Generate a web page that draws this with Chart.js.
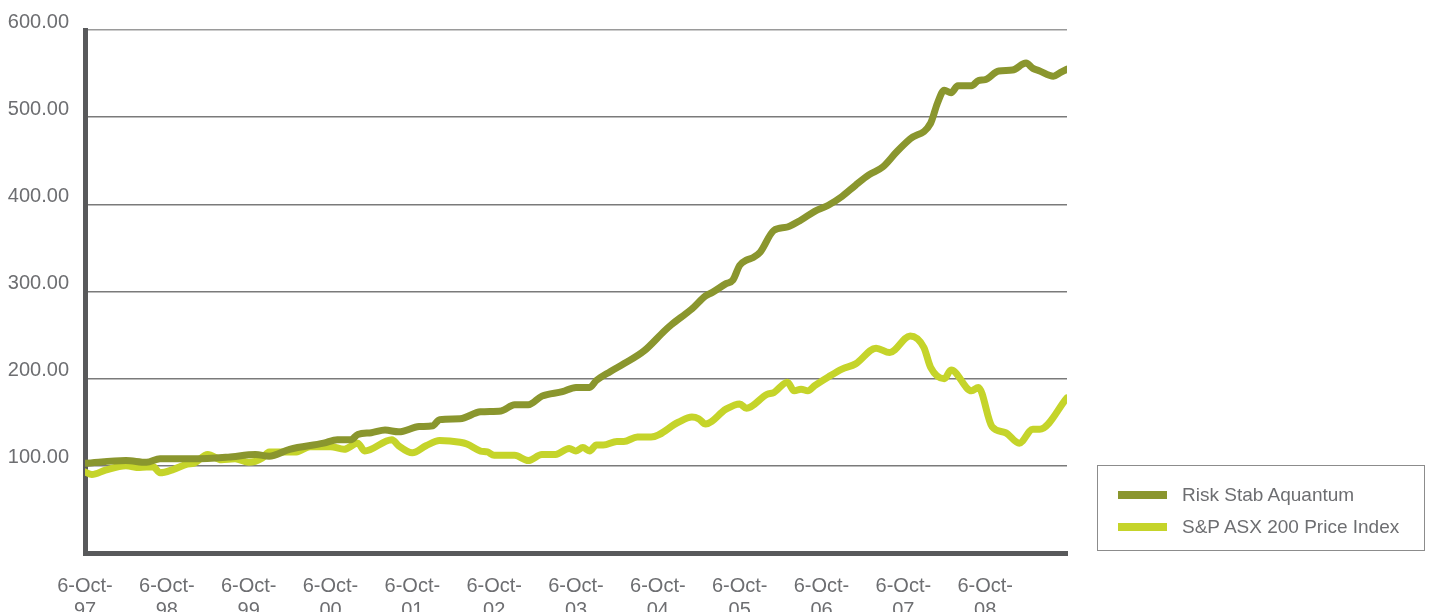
<!DOCTYPE html>
<html>
<head>
<meta charset="utf-8">
<script src="https://cdn.jsdelivr.net/npm/chart.js@4.4.0/dist/chart.umd.min.js"></script>
<style>
  html, body { margin: 0; padding: 0; background: #fff; }
  #wrap { position: relative; width: 1432px; height: 612px; overflow: hidden; }
  #legend {
    position: absolute; left: 1097px; top: 465px; width: 328px; height: 86px;
    border: 1px solid #8c8c8c; box-sizing: border-box;
    font-family: "Liberation Sans", Arial, sans-serif; font-size: 19px; color: #6d6e71;
  }
  .item { position: absolute; left: 20px; height: 24px; display: flex; align-items: center; }
  .swatch { width: 49px; height: 8px; margin-right: 15px; }
</style>
</head>
<body>
<div id="wrap">
  <canvas id="chart" width="1432" height="612"></canvas>
  <div id="legend"></div>
</div>
<script>
// x positions are months since 6-Oct-97
const yearLabels = ['97', '98', '99', '00', '01', '02', '03', '04', '05', '06', '07', '08'];

const riskMonths = [0, 6, 9, 11, 16, 21, 25, 27, 30, 35, 37, 39, 40, 42, 44, 46, 49, 51, 52, 55,
  58, 61, 63, 65, 67, 70, 72, 74, 75, 77, 79, 82, 85, 86, 88, 89, 91, 92, 94, 95,
  96, 97, 98, 99, 101, 103, 105, 107, 109, 111, 113, 115, 117, 119, 121, 124, 125, 126, 127, 128,
  130, 131, 132, 134, 136, 138, 139, 140, 142, 143, 144];
const riskValues = [103, 106, 104, 108, 108, 110, 113, 111, 119, 126, 130, 130, 136, 138, 141, 139, 145, 146, 153, 154,
  162, 163, 170, 170, 180, 185, 190, 190, 198, 208, 217, 232, 255, 262, 274, 280, 295, 299, 309, 313,
  330, 336, 339, 345, 370, 374, 382, 392, 399, 409, 422, 434, 443, 460, 475, 493, 516, 531, 528, 536,
  536, 542, 543, 553, 554, 562, 556, 553, 547, 551, 555];

const asxMonths = [0, 1, 3, 6, 8, 10, 11, 13, 15, 16, 18, 20, 22, 24, 26, 27, 31, 33, 36, 38,
  40, 41, 45, 46, 48, 50, 52, 55, 56, 58, 59, 60, 63, 65, 67, 69, 71, 72, 73, 74,
  75, 76, 78, 79, 81, 83, 87, 89, 90, 91, 94, 96, 97, 100, 101, 103, 104, 105, 106, 107,
  109, 111, 113, 116, 118, 121, 123, 124, 126, 127, 130, 131, 133, 135, 137, 139, 140, 144];
const asxValues = [93, 90, 95, 100, 98, 99, 92, 96, 102, 103, 113, 107, 108, 104, 109, 116, 116, 122, 122, 119,
  126, 117, 130, 123, 115, 123, 129, 127, 125, 117, 116, 112, 112, 106, 113, 113, 120, 117, 121, 117,
  124, 124, 128, 128, 133, 133, 150, 156, 154, 148, 165, 171, 166, 182, 184, 196, 186, 188, 186, 192,
  202, 211, 217, 235, 230, 249, 236, 213, 200, 210, 186, 190, 145, 138, 126, 142, 142, 178];

const seriesNames = ['Risk Stab Aquantum', 'S&P ASX 200 Price Index'];
const seriesColors = ['#8a962e', '#c5d42a'];

const fontFamily = '"Liberation Sans", Arial, sans-serif';
const textColor = '#6d6e71';
const axisColor = '#58595b';

function toPoints(xs, ys) {
  return xs.map((x, i) => ({ x: x, y: ys[i] }));
}

const chart = new Chart(document.getElementById('chart'), {
  type: 'line',
  data: {
    datasets: [
      { label: seriesNames[0], data: toPoints(riskMonths, riskValues), borderColor: seriesColors[0], backgroundColor: seriesColors[0] },
      { label: seriesNames[1], data: toPoints(asxMonths, asxValues), borderColor: seriesColors[1], backgroundColor: seriesColors[1] }
    ]
  },
  options: {
    responsive: false,
    animation: false,
    layout: { padding: { top: 30, right: 365, left: 0, bottom: 0 } },
    plugins: { legend: { display: false }, tooltip: { enabled: false } },
    elements: {
      point: { radius: 0 },
      line: { borderWidth: 7, tension: 0.4, cubicInterpolationMode: 'monotone', borderCapStyle: 'round', borderJoinStyle: 'round' }
    },
    scales: {
      x: {
        type: 'linear', min: 0, max: 144,
        grid: { display: false, drawTicks: false },
        border: { display: true, color: axisColor, width: 5 },
        ticks: {
          stepSize: 12, autoSkip: false, maxRotation: 0, padding: 21,
          color: textColor, font: { family: fontFamily, size: 20 },
          callback: (v) => {
            const i = Math.round(v / 12);
            return i < yearLabels.length ? ['6-Oct-', yearLabels[i]] : '';
          }
        },
        afterFit: (s) => { s.height = 59; }
      },
      y: {
        min: 0, max: 600,
        grid: {
          color: (ctx) => ctx.tick && ctx.tick.value === 600 ? '#9a9a9a' : '#7a7a7a',
          lineWidth: 1.5, drawTicks: false
        },
        border: { display: true, color: axisColor, width: 5 },
        ticks: {
          stepSize: 100, padding: 16, labelOffset: -8,
          color: textColor, font: { family: fontFamily, size: 20 },
          callback: (v) => v === 0 ? '' : v.toFixed(2)
        },
        afterFit: (s) => { s.width = 85; }
      }
    }
  }
});

// html legend
const legend = document.getElementById('legend');
chart.data.datasets.forEach((ds, i) => {
  const item = document.createElement('div');
  item.className = 'item';
  item.style.top = (17 + i * 32) + 'px';
  const sw = document.createElement('span');
  sw.className = 'swatch';
  sw.style.background = ds.borderColor;
  const label = document.createElement('span');
  label.textContent = ds.label;
  item.appendChild(sw);
  item.appendChild(label);
  legend.appendChild(item);
});
</script>
</body>
</html>
